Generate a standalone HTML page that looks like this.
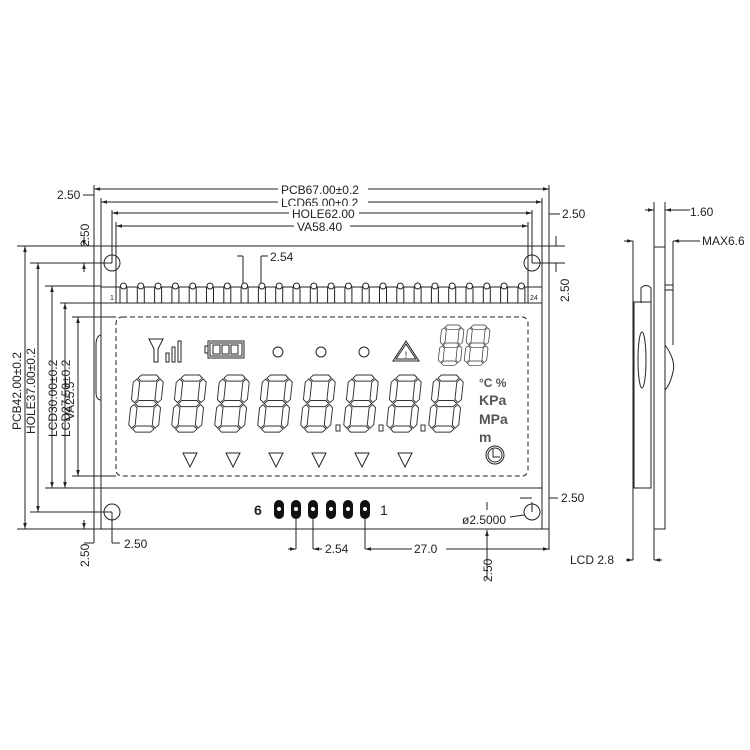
<!DOCTYPE html>
<html><head><meta charset="utf-8"><style>
html,body{margin:0;padding:0;background:#fff}
svg{display:block}
text{font-family:"Liberation Sans",sans-serif;fill:#222}
</style></head><body>
<svg width="750" height="750" viewBox="0 0 750 750" xmlns="http://www.w3.org/2000/svg">
<defs>
<marker id="a" viewBox="0 0 10 10" refX="10" refY="5" markerWidth="6" markerHeight="6" orient="auto-start-reverse"><path d="M0,2 L10,5 L0,8z" fill="#222"/></marker>
<g id="dg" fill="none" stroke="#333" stroke-width="0.9">
<polygon points="4,3 7,0 21,0 24,3 21,6 7,6"/>
<polygon points="4,28 7,25 21,25 24,28 21,31 7,31"/>
<polygon points="4,53 7,50 21,50 24,53 21,56 7,56"/>
<polygon points="3,4 6,7 6,24 3,27 0,24 0,7"/>
<polygon points="3,29 6,32 6,49 3,52 0,49 0,32"/>
<polygon points="25,4 28,7 28,24 25,27 22,24 22,7"/>
<polygon points="25,29 28,32 28,49 25,52 22,49 22,32"/>
</g>
</defs>
<g stroke="#222" stroke-width="1" fill="none">
<!-- PCB outline / extension lines -->
<line x1="17" y1="246" x2="565" y2="246"/>
<line x1="17" y1="529" x2="549" y2="529"/>
<line x1="94" y1="185" x2="94" y2="543"/>
<line x1="549" y1="185" x2="549" y2="550"/>
<line x1="101" y1="198" x2="101" y2="529"/>
<line x1="542" y1="198" x2="542" y2="529"/>
<line x1="116" y1="222" x2="116" y2="303"/>
<line x1="528" y1="222" x2="528" y2="303"/>
<line x1="112" y1="210" x2="112" y2="263"/>
<line x1="532" y1="210" x2="532" y2="263"/>
<line x1="30" y1="263" x2="112" y2="263"/>
<line x1="532" y1="263" x2="565" y2="263"/>
<line x1="45" y1="286" x2="101" y2="286"/>
<line x1="101" y1="287" x2="542" y2="287"/>
<line x1="60" y1="303" x2="542" y2="303"/>
<line x1="72" y1="317" x2="116" y2="317"/>
<line x1="72" y1="476" x2="116" y2="476"/>
<line x1="45" y1="488" x2="542" y2="488"/>
<line x1="30" y1="512" x2="112" y2="512"/>
<circle cx="112" cy="263" r="8"/>
<circle cx="532" cy="263" r="8"/>
<circle cx="112" cy="512" r="8"/>
<circle cx="532" cy="512" r="8"/>
<line x1="532" y1="512" x2="532" y2="502"/>
<line x1="528" y1="287" x2="528" y2="303"/>
<line x1="116" y1="287" x2="116" y2="303"/>
<!-- top dimension lines -->
<line x1="94" y1="189" x2="549" y2="189" marker-start="url(#a)" marker-end="url(#a)"/>
<line x1="101" y1="202" x2="542" y2="202" marker-start="url(#a)" marker-end="url(#a)"/>
<line x1="112" y1="213" x2="532" y2="213" marker-start="url(#a)" marker-end="url(#a)"/>
<line x1="116" y1="226" x2="528" y2="226" marker-start="url(#a)" marker-end="url(#a)"/>
<!-- left dimension lines -->
<line x1="25" y1="246" x2="25" y2="529" marker-start="url(#a)" marker-end="url(#a)"/>
<line x1="38" y1="263" x2="38" y2="512" marker-start="url(#a)" marker-end="url(#a)"/>
<line x1="52" y1="286" x2="52" y2="488" marker-start="url(#a)" marker-end="url(#a)"/>
<line x1="65" y1="303" x2="65" y2="488" marker-start="url(#a)" marker-end="url(#a)"/>
<line x1="78" y1="317" x2="78" y2="476" marker-start="url(#a)" marker-end="url(#a)"/>
<!-- small dims -->
<line x1="83" y1="195" x2="94" y2="195"/>
<line x1="84" y1="237" x2="84" y2="246" marker-end="url(#a)"/>
<line x1="84" y1="272" x2="84" y2="263" marker-end="url(#a)"/>
<line x1="84" y1="520" x2="84" y2="529" marker-end="url(#a)"/>
<line x1="84" y1="543" x2="94" y2="543"/>
<line x1="112" y1="512" x2="112" y2="543"/><line x1="112" y1="543" x2="120" y2="543"/>
<line x1="549" y1="214" x2="560" y2="214"/>
<line x1="556" y1="236" x2="556" y2="246"/>
<line x1="556" y1="272" x2="556" y2="263"/>
<line x1="549" y1="498" x2="558" y2="498"/>
<!-- 2.54 top -->
<line x1="243" y1="256" x2="243" y2="286"/><line x1="237" y1="256" x2="243" y2="256"/>
<line x1="261" y1="256" x2="261" y2="286"/><line x1="261" y1="256" x2="268" y2="256"/>
<!-- VA dashed -->
<rect x="116" y="317" width="412" height="159" rx="6" stroke-dasharray="5,3"/>
<path d="M101,335 Q96,336 96,345 L96,392 Q96,400 101,400"/>
<!-- bottom dims -->
<line x1="296" y1="509" x2="296" y2="549"/><line x1="288" y1="549" x2="296" y2="549" marker-end="url(#a)"/>
<line x1="313" y1="509" x2="313" y2="549"/><line x1="313" y1="549" x2="322" y2="549" marker-start="url(#a)"/>
<line x1="365" y1="509" x2="365" y2="549"/>
<line x1="365" y1="549" x2="549" y2="549" marker-start="url(#a)" marker-end="url(#a)"/>
<line x1="487" y1="530" x2="487" y2="580" marker-start="url(#a)"/>
<line x1="487" y1="502" x2="487" y2="510"/>
<line x1="510" y1="517" x2="524" y2="515"/>
<line x1="520" y1="498" x2="532" y2="498"/>
<!-- side view -->
<rect x="654" y="247" width="11" height="282"/>
<line x1="654" y1="202" x2="654" y2="560"/>
<line x1="665" y1="202" x2="665" y2="247"/>
<line x1="645" y1="210" x2="654" y2="210" marker-end="url(#a)"/>
<line x1="665" y1="210" x2="690" y2="210" marker-start="url(#a)"/>
<line x1="633" y1="241" x2="633" y2="560"/>
<line x1="673" y1="241" x2="673" y2="290"/>
<line x1="624" y1="241" x2="633" y2="241" marker-end="url(#a)"/>
<line x1="673" y1="241" x2="700" y2="241" marker-start="url(#a)"/>
<line x1="665" y1="285" x2="673" y2="285"/>
<line x1="665" y1="290" x2="673" y2="290"/>
<line x1="673" y1="290" x2="673" y2="345"/>
<path d="M665,345 Q676,360 673,372 Q670,385 665,390"/>
<rect x="634" y="302" width="17" height="186"/>
<line x1="651" y1="302" x2="651" y2="488"/>
<path d="M641,303 L641,288 Q646,283 651,288 L651,303"/>
<ellipse cx="642" cy="360" rx="4" ry="28"/>
<line x1="626" y1="560" x2="633" y2="560" marker-end="url(#a)"/>
<line x1="654" y1="560" x2="662" y2="560" marker-start="url(#a)"/>
<!-- icons -->
<path d="M149,339 L163,339 L158,349 L158,362 L154,362 L154,349 Z"/>
<rect x="166" y="353" width="3" height="9"/><rect x="172" y="347" width="3" height="15"/><rect x="178" y="341" width="3" height="21"/>
<rect x="208" y="341" width="36" height="17"/><rect x="210" y="343" width="32" height="13"/>
<rect x="205" y="346" width="3" height="7"/>
<rect x="213" y="345" width="7" height="9"/><rect x="222" y="345" width="7" height="9"/><rect x="231" y="345" width="7" height="9"/>
<circle cx="278" cy="352" r="5"/><circle cx="321" cy="352" r="5"/><circle cx="364" cy="352" r="5"/>
<path d="M406,341 L419,361 L393,361 Z"/><path d="M406,344 L416,359 L396,359 Z"/>
<circle cx="495" cy="455" r="9"/><circle cx="495" cy="455" r="7"/>
<path d="M493,449 L493,457 L500,457"/>
<!-- triangles -->
<path d="M183,453 L197,453 L190,467 Z"/><path d="M226,453 L240,453 L233,467 Z"/>
<path d="M269,453 L283,453 L276,467 Z"/><path d="M312,453 L326,453 L319,467 Z"/>
<path d="M355,453 L369,453 L362,467 Z"/><path d="M398,453 L412,453 L405,467 Z"/>
</g>
<!-- pins top -->
<g stroke="#222" stroke-width="1" fill="#fff">
<g id="pin"><rect x="120" y="287" width="7" height="16"/><circle cx="123.5" cy="286" r="3"/></g>
<use href="#pin" x="17.3"/><use href="#pin" x="34.6"/><use href="#pin" x="51.9"/><use href="#pin" x="69.2"/><use href="#pin" x="86.5"/><use href="#pin" x="103.8"/><use href="#pin" x="121.1"/><use href="#pin" x="138.4"/><use href="#pin" x="155.7"/><use href="#pin" x="173"/><use href="#pin" x="190.3"/><use href="#pin" x="207.6"/><use href="#pin" x="224.9"/><use href="#pin" x="242.2"/><use href="#pin" x="259.5"/><use href="#pin" x="276.8"/><use href="#pin" x="294.1"/><use href="#pin" x="311.4"/><use href="#pin" x="328.7"/><use href="#pin" x="346"/><use href="#pin" x="363.3"/><use href="#pin" x="380.6"/><use href="#pin" x="397.9"/>
</g>
<!-- bottom pads -->
<g fill="#111">
<rect x="274" y="500" width="10" height="19" rx="5"/><rect x="291" y="500" width="10" height="19" rx="5"/><rect x="308" y="500" width="10" height="19" rx="5"/><rect x="326" y="500" width="10" height="19" rx="5"/><rect x="343" y="500" width="10" height="19" rx="5"/><rect x="360" y="500" width="10" height="19" rx="5"/>
</g>
<g fill="#fff"><circle cx="279" cy="509" r="2"/><circle cx="296" cy="509" r="2"/><circle cx="313" cy="509" r="2"/><circle cx="331" cy="509" r="2"/><circle cx="348" cy="509" r="2"/><circle cx="365" cy="509" r="2"/></g>
<!-- digits -->
<g transform="translate(134,375) skewX(-6) scale(1.07,1.02)"><use href="#dg"/></g>
<g transform="translate(177,375) skewX(-6) scale(1.07,1.02)"><use href="#dg"/></g>
<g transform="translate(220,375) skewX(-6) scale(1.07,1.02)"><use href="#dg"/></g>
<g transform="translate(263,375) skewX(-6) scale(1.07,1.02)"><use href="#dg"/></g>
<g transform="translate(306,375) skewX(-6) scale(1.07,1.02)"><use href="#dg"/></g>
<g transform="translate(349,375) skewX(-6) scale(1.07,1.02)"><use href="#dg"/></g>
<g transform="translate(392,375) skewX(-6) scale(1.07,1.02)"><use href="#dg"/></g>
<g transform="translate(434,375) skewX(-6) scale(1.07,1.02)"><use href="#dg"/></g>
<g transform="translate(442,325) skewX(-6) scale(0.8,0.72)"><use href="#dg"/></g>
<g transform="translate(468,325) skewX(-6) scale(0.8,0.72)"><use href="#dg"/></g>
<g fill="none" stroke="#333"><rect x="336" y="425" width="4" height="6"/><rect x="379" y="425" width="4" height="6"/><rect x="421" y="425" width="4" height="6"/></g>
<!-- text -->
<g font-size="12">
<rect x="278" y="182" width="90" height="14" fill="#fff"/><text x="281" y="194">PCB67.00±0.2</text>
<rect x="278" y="195" width="90" height="14" fill="#fff"/><text x="281" y="207">LCD65.00±0.2</text>
<rect x="289" y="206" width="70" height="14" fill="#fff"/><text x="292" y="218">HOLE62.00</text>
<rect x="294" y="219" width="56" height="14" fill="#fff"/><text x="297" y="231">VA58.40</text>
<text x="57" y="199">2.50</text>
<text x="562" y="218">2.50</text>
<text x="270" y="261">2.54</text>
<text x="124" y="548">2.50</text>
<text x="561" y="502">2.50</text>
<text x="325" y="553">2.54</text>
<rect x="412" y="543" width="34" height="12" fill="#fff"/><text x="414" y="553">27.0</text>
<text x="462" y="524">ø2.5000</text>
<text x="690" y="216">1.60</text>
<text x="702" y="245">MAX6.6</text>
<text x="570" y="564" font-family="Liberation Mono">LCD 2.8</text>
<text transform="translate(89,247) rotate(-90)">2.50</text>
<text transform="translate(89,567) rotate(-90)">2.50</text>
<text transform="translate(569,302) rotate(-90)">2.50</text>
<text transform="translate(492,582) rotate(-90)">2.50</text>
<text transform="translate(21,430) rotate(-90)">PCB42.00±0.2</text>
<text transform="translate(35,434) rotate(-90)">HOLE37.00±0.2</text>
<text transform="translate(57,437) rotate(-90)">LCD30.00±0.2</text>
<text transform="translate(70,437) rotate(-90)">LCD27.50±0.2</text>
<text transform="translate(74,420) rotate(-90)">VA25.5</text>
</g>
<text x="110" y="300" font-size="7">1</text>
<text x="530" y="300" font-size="7">24</text>
<text x="254" y="515" font-size="14" font-family="Liberation Serif" font-weight="bold">6</text>
<text x="380" y="515" font-size="14" font-family="Liberation Serif">1</text>
<text x="406" y="358" font-size="9" text-anchor="middle">!</text>
<g font-size="14" font-weight="bold" fill="#555">
<text x="479" y="387" font-size="12" style="fill:#555">°C %</text>
<text x="479" y="405" style="fill:#555">KPa</text>
<text x="479" y="424" style="fill:#555">MPa</text>
<text x="479" y="442" style="fill:#555">m</text>
</g>
</svg>
</body></html>
